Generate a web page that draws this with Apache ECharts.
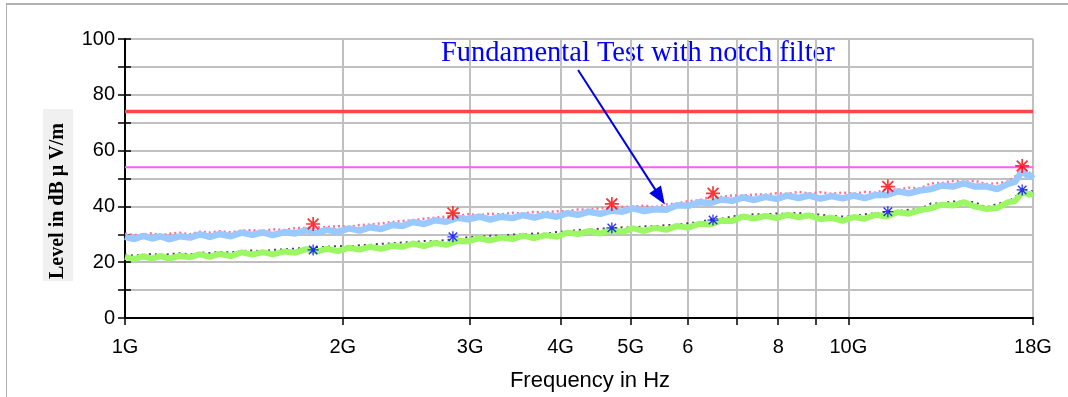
<!DOCTYPE html>
<html>
<head>
<meta charset="utf-8">
<script src="https://cdn.jsdelivr.net/npm/echarts@6/dist/echarts.min.js"></script>
<style>
  html, body { margin: 0; padding: 0; background: #fff; }
  #frame { position: absolute; left: 6px; top: 3px; width: 1070px; height: 392px;
           border-left: 1px solid #b0b0b0; border-top: 2px solid #b0b0b0; border-bottom: 2px solid #b0b0b0; }
  #chart { position: absolute; left: 0; top: 0; width: 1068px; height: 397px; }
</style>
</head>
<body>
<div id="frame"></div>
<div id="chart"></div>
<script>
// frequencies in GHz
const freqs = [
  1.00, 1.03, 1.06, 1.09, 1.12, 1.15, 1.19, 1.23, 1.27, 1.31,
  1.35, 1.40, 1.45, 1.50, 1.55, 1.60, 1.66, 1.72, 1.78, 1.84,
  1.90, 1.97, 2.04, 2.11, 2.18, 2.26, 2.34, 2.42, 2.50, 2.59,
  2.68, 2.78, 2.88, 2.98, 3.09, 3.20, 3.31, 3.43, 3.55, 3.68,
  3.81, 3.95, 4.09, 4.23, 4.38, 4.54, 4.70, 4.87, 5.04, 5.22,
  5.41, 5.60, 5.80, 6.01, 6.22, 6.44, 6.67, 6.91, 7.16, 7.41,
  7.68, 7.95, 8.23, 8.53, 8.83, 9.15, 9.48, 9.82, 10.17, 10.53,
  10.91, 11.30, 11.70, 12.12, 12.55, 13.00, 13.47, 13.95, 14.45, 14.97,
  15.50, 16.06, 16.63, 17.00, 17.40, 17.80, 18.00
];

// peak trace, original (pink dotted)
const peakRaw = [
  30.2, 29.7, 29.9, 30.4, 29.6, 30.2, 30.6, 30.0, 30.9, 30.6,
  31.1, 30.7, 31.3, 31.5, 31.1, 31.8, 31.5, 32.2, 32.3, 32.4,
  32.6, 32.9, 32.6, 33.3, 33.5, 33.9, 34.4, 34.8, 35.0, 35.6,
  35.9, 36.4, 36.6, 37.2, 36.9, 37.4, 37.1, 37.7, 37.5, 38.0,
  37.8, 38.3, 38.3, 38.9, 38.8, 39.4, 39.5, 39.9, 39.9, 40.3,
  39.7, 40.7, 41.0, 41.9, 42.2, 43.3, 43.4, 43.9, 43.8, 44.3,
  44.2, 44.7, 44.5, 45.2, 44.6, 45.1, 44.5, 45.0, 44.5, 45.2,
  44.9, 46.1, 46.0, 46.7, 46.4, 48.3, 48.4, 49.1, 48.8, 49.2,
  48.0, 48.3, 48.9, 50.7, 53.8, 52.0, 52.5
];

// peak trace with notch filter (light blue)
const peakNotch = [
  29.1, 28.3, 29.4, 28.5, 29.3, 28.2, 29.3, 28.8, 30.0, 29.1,
  30.1, 29.3, 30.6, 29.8, 30.7, 29.7, 30.8, 30.3, 31.5, 30.5,
  31.6, 30.9, 32.1, 31.3, 32.5, 31.9, 33.3, 33.0, 34.4, 33.7,
  35.0, 34.5, 35.9, 35.4, 36.3, 35.3, 36.3, 35.8, 36.9, 36.0,
  37.0, 36.3, 37.6, 37.0, 38.1, 37.3, 38.5, 38.1, 39.3, 38.3,
  39.0, 38.8, 40.4, 40.2, 41.5, 41.2, 42.5, 42.0, 43.2, 42.3,
  43.4, 42.7, 43.9, 43.0, 43.9, 42.8, 43.7, 42.9, 43.9, 43.0,
  44.1, 44.1, 45.4, 44.7, 45.7, 46.2, 47.5, 47.1, 48.3, 47.1,
  47.2, 46.2, 48.1, 48.9, 52.7, 50.3, 51.6
];

// average trace, original (dark gray dotted)
const avgRaw = [
  22.7, 22.4, 22.6, 23.0, 22.5, 22.9, 23.2, 22.8, 23.5, 23.3,
  23.7, 23.5, 24.0, 24.2, 23.9, 24.4, 24.6, 24.9, 25.1, 25.4,
  25.5, 25.8, 25.6, 26.1, 26.2, 26.6, 26.7, 27.1, 27.2, 27.6,
  27.5, 28.0, 28.1, 29.0, 29.1, 29.5, 29.4, 29.9, 29.9, 30.3,
  30.2, 30.8, 31.0, 31.6, 31.5, 32.1, 32.0, 32.5, 32.4, 32.9,
  32.8, 33.3, 33.4, 34.0, 34.3, 35.3, 35.5, 36.4, 36.8, 37.2,
  37.1, 37.5, 37.3, 37.7, 37.2, 37.1, 36.5, 36.4, 36.4, 37.2,
  37.5, 38.0, 38.3, 38.8, 39.0, 41.0, 41.1, 41.8, 41.8, 41.5,
  39.6, 40.9, 41.8, 43.3, 45.9, 45.7, 45.3
];

// average trace with notch filter (green)
const avgNotch = [
  21.9, 21.1, 22.2, 21.3, 22.3, 21.3, 22.3, 21.8, 22.8, 21.9,
  23.0, 22.2, 23.5, 22.7, 23.6, 22.8, 23.8, 23.4, 24.7, 23.8,
  24.8, 24.0, 25.2, 24.5, 25.5, 24.8, 25.9, 25.5, 26.7, 25.8,
  26.9, 26.2, 27.6, 27.5, 28.6, 27.8, 28.8, 28.3, 29.5, 28.6,
  29.7, 29.1, 30.6, 30.1, 31.2, 30.3, 31.4, 30.9, 32.1, 31.2,
  32.3, 31.6, 33.0, 32.4, 33.8, 33.5, 34.9, 34.8, 36.4, 35.6,
  36.6, 35.8, 37.0, 36.1, 36.8, 35.4, 35.9, 34.8, 36.2, 35.6,
  37.0, 36.4, 37.9, 37.4, 38.6, 39.3, 40.6, 40.3, 41.5, 39.9,
  39.1, 39.4, 41.5, 41.9, 45.2, 44.2, 44.7
];

// final measurement markers
const markFreqs = [1.82, 2.84, 4.71, 6.50, 11.34, 17.39];
const peakMarks = [33.7, 37.6, 40.9, 44.7, 47.1, 54.5];
const avgMarks = [24.4, 29.1, 32.3, 35.1, 38.1, 45.9];

// limit lines
const limitFreqs = [1, 18];
const limitPeak = [74, 74];
const limitAvg = [54, 54];

// axis ticks / labels
const tickFreqs = [1, 2, 3, 4, 5, 6, 7, 8, 9, 10, 18];
const labelFreqs = [1, 2, 3, 4, 5, 6, 8, 10, 18];
const labelTexts = ['1G', '2G', '3G', '4G', '5G', '6', '8', '10G', '18G'];
const yLabelVals = [0, 20, 40, 60, 80, 100];

// annotation arrow (GHz, dB)
const arrowFrom = [4.23, 88.9];
const arrowTo = [5.49, 43.4];

const lg = f => Math.log10(f);
const pts = (xs, ys) => xs.map((f, i) => [lg(f), ys[i]]);

const asterisk = 'path://M0 44L100 44L100 56L0 56Z M44 0L56 0L56 100L44 100Z ' +
  'M16 7L93 84L84 93L7 16Z M84 7L93 16L16 93L7 84Z';

const chart = echarts.init(document.getElementById('chart'));

const xBase = {
  type: 'value',
  min: 0,
  max: lg(18),
  axisLine: { lineStyle: { color: '#000', width: 2 } }
};
const yBase = {
  type: 'value',
  min: 0,
  max: 100,
  interval: 10
};

chart.setOption({
  animation: false,
  grid: { left: 125, right: 35, top: 39, bottom: 79 },
  xAxis: [
    Object.assign({}, xBase, {
      axisTick: { customValues: tickFreqs.map(lg), length: 7, lineStyle: { color: '#000', width: 1.5 } },
      axisLabel: {
        customValues: labelFreqs.map(lg),
        margin: 19,
        color: '#000',
        fontSize: 20,
        fontFamily: 'Liberation Sans',
        formatter: v => {
          const i = labelFreqs.findIndex(f => Math.abs(lg(f) - v) < 1e-6);
          return i >= 0 ? labelTexts[i] : '';
        }
      },
      splitLine: { show: true, lineStyle: { color: '#c0c0c0', width: 2 } }
    }),
    Object.assign({}, xBase, {
      axisLine: { show: false },
      axisTick: { customValues: tickFreqs.map(lg), inside: true, length: 6, lineStyle: { color: '#000', width: 1.5 } },
      axisLabel: { show: false },
      splitLine: { show: false }
    })
  ],
  yAxis: [
    Object.assign({}, yBase, {
      axisLine: { show: true, lineStyle: { color: '#000', width: 2 } },
      axisTick: { show: true, length: 7, lineStyle: { color: '#000', width: 1.5 } },
      axisLabel: { customValues: yLabelVals, margin: 10, color: '#000', fontSize: 20, fontFamily: 'Liberation Sans' },
      splitLine: { show: true, lineStyle: { color: '#c0c0c0', width: 2 } }
    }),
    Object.assign({}, yBase, {
      position: 'left',
      axisLine: { show: false },
      axisTick: { show: true, inside: true, length: 6, lineStyle: { color: '#000', width: 1.5 } },
      axisLabel: { show: false },
      splitLine: { show: false }
    })
  ],
  graphic: [
    {
      type: 'text',
      x: 58,
      y: 195,
      rotation: Math.PI / 2,
      style: {
        text: 'Level in dB µ V/m',
        font: 'bold 20px "Liberation Serif"',
        fill: '#000',
        align: 'center',
        verticalAlign: 'middle',
        backgroundColor: '#f0f0f0',
        padding: [5, 14, 5, 2]
      }
    },
    {
      type: 'text',
      x: 590,
      y: 381,
      style: {
        text: 'Frequency in Hz',
        font: '22px "Liberation Sans"',
        fill: '#000',
        align: 'center',
        verticalAlign: 'middle'
      }
    },
    {
      type: 'text',
      x: 441,
      y: 54,
      style: {
        text: 'Fundamental Test with notch filter',
        font: '28.5px "Liberation Serif"',
        fill: '#0000ff',
        align: 'left',
        verticalAlign: 'middle'
      }
    }
  ],
  series: [
    {
      type: 'line', data: pts(limitFreqs, limitPeak), symbol: 'none',
      lineStyle: { color: '#ff4646', width: 3.5 }, z: 2
    },
    {
      type: 'line', data: pts(limitFreqs, limitAvg), symbol: 'none',
      lineStyle: { color: '#ff5cff', width: 2 }, z: 2
    },
    {
      type: 'line', data: pts(freqs, peakRaw), symbol: 'none',
      lineStyle: { color: '#ff6f99', width: 2.5, type: [2, 3] }, z: 3
    },
    {
      type: 'line', data: pts(freqs, peakNotch), symbol: 'none',
      lineStyle: { color: '#99c9ff', width: 6.5 }, z: 4
    },
    {
      type: 'line', data: pts(freqs, avgRaw), symbol: 'none',
      lineStyle: { color: '#444', width: 2, type: [2, 4] }, z: 3
    },
    {
      type: 'line', data: pts(freqs, avgNotch), symbol: 'none',
      lineStyle: { color: '#9cf764', width: 6 }, z: 4,
      markLine: {
        silent: true,
        animation: false,
        symbol: ['none', 'triangle'],
        symbolSize: [14, 18],
        label: { show: false },
        lineStyle: { color: '#0000e6', width: 2, type: 'solid' },
        data: [[
          { coord: [lg(arrowFrom[0]), arrowFrom[1]] },
          { coord: [lg(arrowTo[0]), arrowTo[1]] }
        ]]
      }
    },
    {
      type: 'scatter', data: pts(markFreqs, peakMarks), symbol: asterisk, symbolSize: 14,
      itemStyle: { color: '#ff0000' }, z: 6
    },
    {
      type: 'scatter', data: pts(markFreqs, avgMarks), symbol: asterisk, symbolSize: 11,
      itemStyle: { color: '#0000ff' }, z: 6
    }
  ]
});
</script>
</body>
</html>
